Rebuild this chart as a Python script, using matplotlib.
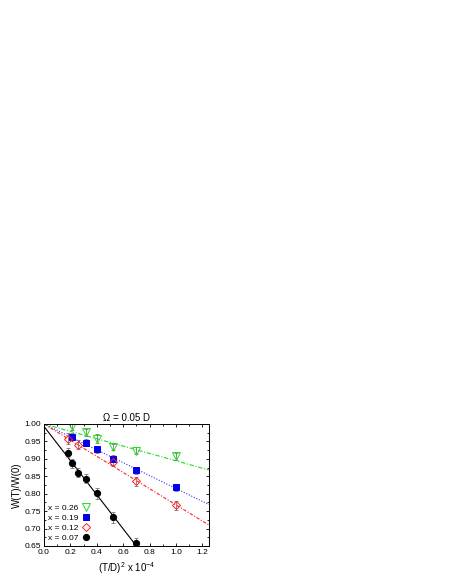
import matplotlib
matplotlib.use("Agg")
import matplotlib.pyplot as plt
import numpy as np
from matplotlib.ticker import MultipleLocator, FormatStrFormatter
from matplotlib.lines import Line2D

plt.rcParams['font.family'] = ['Liberation Sans', 'DejaVu Sans']
plt.rcParams['mathtext.fontset'] = 'custom'
plt.rcParams['mathtext.rm'] = 'Liberation Sans'

# Data
x26 = [0.21, 0.315, 0.40, 0.52, 0.70, 1.00]
y26 = [0.994, 0.976, 0.958, 0.934, 0.923, 0.908]
e26 = [0.010, 0.010, 0.012, 0.010, 0.010, 0.010]

x19 = [0.21, 0.315, 0.40, 0.52, 0.70, 1.00]
y19 = [0.963, 0.946, 0.927, 0.900, 0.867, 0.818]
e19 = [0.010, 0.010, 0.010, 0.010, 0.010, 0.010]

x12 = [0.18, 0.26, 0.52, 0.70, 1.00]
y12 = [0.958, 0.941, 0.891, 0.836, 0.767]
e12 = [0.015, 0.012, 0.012, 0.013, 0.013]

x07 = [0.18, 0.21, 0.26, 0.315, 0.40, 0.52, 0.70]
y07 = [0.918, 0.887, 0.860, 0.843, 0.801, 0.732, 0.658]
e07 = [0.013, 0.013, 0.013, 0.013, 0.015, 0.015, 0.015]

# fit lines: intercept, slope
fit26 = (1.000, -0.1056)
fit19 = (1.000, -0.185)
fit12 = (1.000, -0.232)
fit07 = (0.993, -0.49)

labels = ['x = 0.26', 'x = 0.19', 'x = 0.12', 'x = 0.07']

fig = plt.figure(figsize=(4.52, 5.85), dpi=100)
ax = fig.add_axes([44/452, 39/585, 165/452, 122/585])

fs = 6
green, blue, red = '#22dd22', '#0000ee', '#ff2222'
xx = np.linspace(0, 1.25, 200)
ax.plot(xx, fit26[0] + fit26[1]*xx, color=green, ls=(0, (4, 1.5, 1, 1.5)), lw=0.8)
ax.plot(xx, fit19[0] + fit19[1]*xx, color='#3333ff', ls=(0, (1, 1.5)), lw=0.8)
ax.plot(xx, fit12[0] + fit12[1]*xx, color=red, ls=(0, (3, 1.5, 1, 1.5)), lw=0.8)
xb = np.linspace(0, 0.75, 100)
ax.plot(xb, fit07[0] + fit07[1]*xb, color='black', ls='-', lw=0.8)

eb = dict(fmt='none', ecolor='#777777', elinewidth=0.6, capsize=1.5, capthick=0.6)
ax.errorbar(x26, y26, yerr=e26, **eb)
ax.errorbar(x19, y19, yerr=e19, **eb)
ax.errorbar(x12, y12, yerr=e12, **eb)
ax.errorbar(x07, y07, yerr=e07, **eb)

st = [dict(marker='v', ms=5.5, mfc='none', mec=green, mew=0.7),
      dict(marker='s', ms=4.5, mfc=blue, mec=blue, mew=0.7),
      dict(marker='D', ms=4.0, mfc='none', mec=red, mew=0.7),
      dict(marker='o', ms=4.5, mfc='black', mec='black', mew=0.7)]
for (xs, ys), s in zip([(x26, y26), (x19, y19), (x12, y12), (x07, y07)], st):
    ax.plot(xs, ys, ls='none', **s)

ax.set_xlim(0, 1.25)
ax.set_ylim(0.65, 1.0)
ax.xaxis.set_major_locator(MultipleLocator(0.2))
ax.xaxis.set_minor_locator(MultipleLocator(0.1))
ax.yaxis.set_major_locator(MultipleLocator(0.05))
ax.yaxis.set_minor_locator(MultipleLocator(0.025))
ax.tick_params(which='both', direction='in', top=True, right=True, labelsize=fs, width=0.6, pad=2)
ax.tick_params(which='major', length=2.5)
ax.tick_params(which='minor', length=1.5)
ax.xaxis.set_major_formatter(FormatStrFormatter('%.1f'))
ax.yaxis.set_major_formatter(FormatStrFormatter('%.2f'))
for s in ax.spines.values():
    s.set_linewidth(0.7)

ax.set_title('Ω = 0.05 D', fontsize=7, pad=2)
ax.set_xlabel('(T/D)$^2$ x 10$^{-4}$', fontsize=7, labelpad=3)
ax.set_ylabel('W(T)/W(0)', fontsize=7, labelpad=2)

handles = [Line2D([], [], ls='none', **s) for s in st]
ax.legend(handles, labels, loc='lower left', fontsize=fs, frameon=False,
          markerfirst=False, handlelength=1.0, handletextpad=0.4,
          labelspacing=0.25, borderaxespad=0.3, borderpad=0.2)

fig.savefig('out.png', dpi=100)
